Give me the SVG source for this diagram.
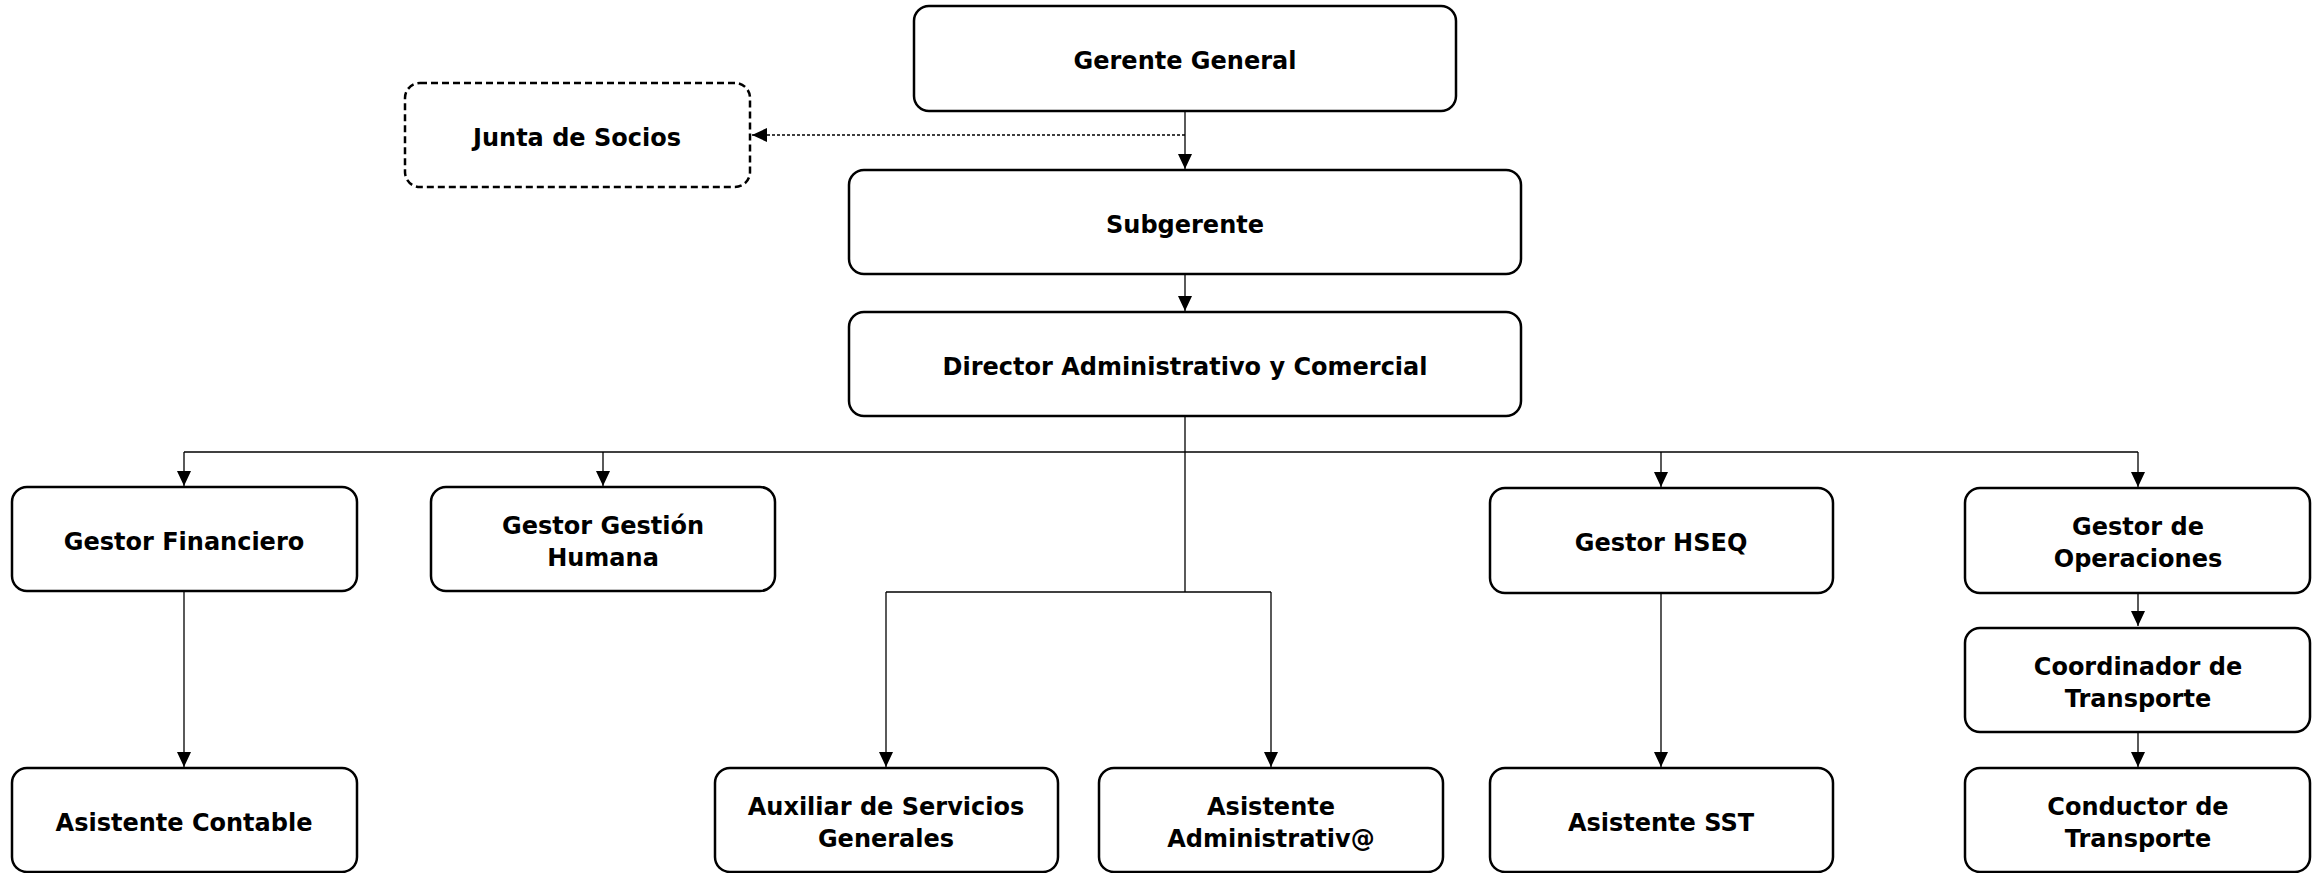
<svg xmlns="http://www.w3.org/2000/svg" width="2320" height="873" viewBox="0 0 2320 873">
<style>
.box{fill:#fff;stroke:#000;stroke-width:2.5}
.dash{stroke-dasharray:7 4}
.t{font-family:"DejaVu Sans","Liberation Sans",sans-serif;font-weight:bold;font-size:24px;fill:#000;text-anchor:middle}
.c{fill:none;stroke:#000;stroke-width:1.3}
.dot{stroke-dasharray:3 2}
</style>
<defs>
<marker id="ah" markerUnits="userSpaceOnUse" markerWidth="16" markerHeight="14" refX="15" refY="7" orient="auto">
<path d="M0,0 L15,7 L0,14 z" fill="#000"/>
</marker>
</defs>
<rect width="2320" height="873" fill="#fff"/>
<g id="connectors">
<path class="c" d="M1185,111 V169" marker-end="url(#ah)"/>
<path class="c dot" d="M1185,135 H752" marker-end="url(#ah)"/>
<path class="c" d="M1185,274 V311" marker-end="url(#ah)"/>
<path class="c" d="M1185,416 V592"/>
<path class="c" d="M184,452 H2138"/>
<path class="c" d="M184,452 V486" marker-end="url(#ah)"/>
<path class="c" d="M603,452 V486" marker-end="url(#ah)"/>
<path class="c" d="M1661,452 V487" marker-end="url(#ah)"/>
<path class="c" d="M2138,452 V487" marker-end="url(#ah)"/>
<path class="c" d="M886,592 H1271"/>
<path class="c" d="M886,592 V767" marker-end="url(#ah)"/>
<path class="c" d="M1271,592 V767" marker-end="url(#ah)"/>
<path class="c" d="M184,591 V767" marker-end="url(#ah)"/>
<path class="c" d="M1661,593 V767" marker-end="url(#ah)"/>
<path class="c" d="M2138,593 V626" marker-end="url(#ah)"/>
<path class="c" d="M2138,732 V767" marker-end="url(#ah)"/>
</g>
<g id="gerente"><rect class="box" x="914" y="6" width="542" height="105" rx="15"/><text class="t" x="1185" y="68.5">Gerente General</text></g>
<g id="junta"><rect class="box dash" x="405" y="83" width="345" height="104" rx="15"/><text class="t" x="577" y="145.5">Junta de Socios</text></g>
<g id="subgerente"><rect class="box" x="849" y="170" width="672" height="104" rx="15"/><text class="t" x="1185" y="232.5">Subgerente</text></g>
<g id="director"><rect class="box" x="849" y="312" width="672" height="104" rx="15"/><text class="t" x="1185" y="374.5">Director Administrativo y Comercial</text></g>
<g id="financiero"><rect class="box" x="12" y="487" width="345" height="104" rx="15"/><text class="t" x="184" y="549.5">Gestor Financiero</text></g>
<g id="humana"><rect class="box" x="431" y="487" width="344" height="104" rx="15"/><text class="t" x="603" y="533.5">Gestor Gestión</text><text class="t" x="603" y="565.5">Humana</text></g>
<g id="hseq"><rect class="box" x="1490" y="488" width="343" height="105" rx="15"/><text class="t" x="1661" y="550.5">Gestor HSEQ</text></g>
<g id="operaciones"><rect class="box" x="1965" y="488" width="345" height="105" rx="15"/><text class="t" x="2138" y="534.5">Gestor de</text><text class="t" x="2138" y="566.5">Operaciones</text></g>
<g id="coordinador"><rect class="box" x="1965" y="628" width="345" height="104" rx="15"/><text class="t" x="2138" y="674.5">Coordinador de</text><text class="t" x="2138" y="706.5">Transporte</text></g>
<g id="contable"><rect class="box" x="12" y="768" width="345" height="104" rx="15"/><text class="t" x="184" y="830.5">Asistente Contable</text></g>
<g id="auxiliar"><rect class="box" x="715" y="768" width="343" height="104" rx="15"/><text class="t" x="886" y="814.5">Auxiliar de Servicios</text><text class="t" x="886" y="846.5">Generales</text></g>
<g id="administrativa"><rect class="box" x="1099" y="768" width="344" height="104" rx="15"/><text class="t" x="1271" y="814.5">Asistente</text><text class="t" x="1271" y="846.5">Administrativ@</text></g>
<g id="sst"><rect class="box" x="1490" y="768" width="343" height="104" rx="15"/><text class="t" x="1661" y="830.5">Asistente SST</text></g>
<g id="conductor"><rect class="box" x="1965" y="768" width="345" height="104" rx="15"/><text class="t" x="2138" y="814.5">Conductor de</text><text class="t" x="2138" y="846.5">Transporte</text></g>
</svg>
